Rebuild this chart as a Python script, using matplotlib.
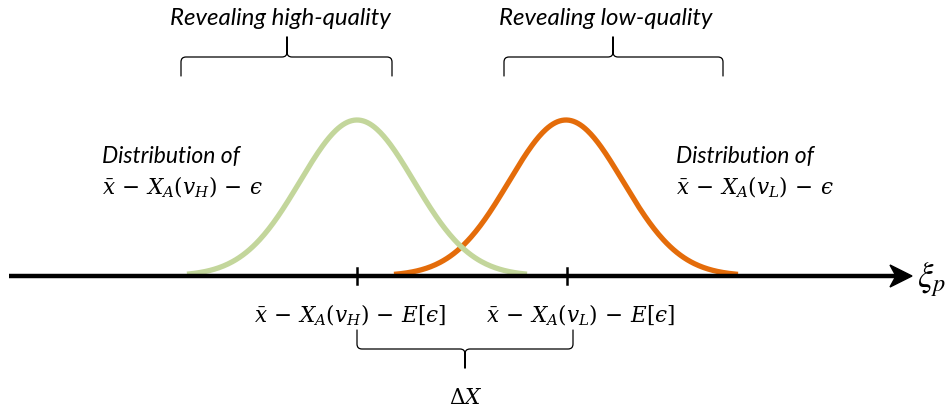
import numpy as np
import matplotlib
matplotlib.use('Agg')
import matplotlib.pyplot as plt
from matplotlib.path import Path
from matplotlib.patches import PathPatch, Polygon

plt.rcParams['mathtext.fontset'] = 'dejavuserif'

# Two distributions along the xi_p axis (units = sketch pixels)
dist_means = [357, 566]
dist_sigma = [57, 57]
dist_peak = [156, 156]
dist_halfwidth = [170, 172]
dist_colors = ['#C3D69B', '#E46C0A']

EPS = '\u03f5'
MINUS = r'\,-\,'
tick_pos = [357, 567]
tick_labels = [rf'$\bar{{x}}{MINUS}X_A(v_H){MINUS}E[{EPS}]$',
               rf'$\bar{{x}}{MINUS}X_A(v_L){MINUS}E[{EPS}]$']
dist_texts = [rf'$\bar{{x}}{MINUS}X_A(v_H){MINUS}{EPS}$',
              rf'$\bar{{x}}{MINUS}X_A(v_L){MINUS}{EPS}$']
brace_labels = ['Revealing high-quality', 'Revealing low-quality']
brace_spans = [(181, 392, 287), (504, 723, 613)]
delta_span = (357, 573, 465)

AXIS_Y = 276


def brace(ax, x0, x1, xm, y, leg, tip, r=5, lw=0.9):
    """Curly brace: legs of signed length `leg`, middle tip of signed length `tip`."""
    sl = np.sign(leg)
    st = np.sign(tip)
    verts = [(x0, y + leg), (x0, y + sl * r), (x0, y), (x0 + r, y),
             (xm - r, y), (xm, y), (xm, y + st * r), (xm, y + tip),
             (xm, y + tip), (xm, y + st * r), (xm, y), (xm + r, y),
             (x1 - r, y), (x1, y), (x1, y + sl * r), (x1, y + leg)]
    codes = [Path.MOVETO, Path.LINETO, Path.CURVE3, Path.CURVE3,
             Path.LINETO, Path.CURVE3, Path.CURVE3, Path.LINETO,
             Path.MOVETO, Path.LINETO, Path.CURVE3, Path.CURVE3,
             Path.LINETO, Path.CURVE3, Path.CURVE3, Path.LINETO]
    ax.add_patch(PathPatch(Path(verts, codes), fill=False, ec='black', lw=lw,
                           capstyle='round', joinstyle='round'))


fig = plt.figure(figsize=(9.51, 4.09), dpi=100)
ax = fig.add_axes([0, 0, 1, 1])
ax.set_xlim(0, 951)
ax.set_ylim(409, 0)
ax.axis('off')

# density curves (orange first so the green sits on top at the crossing)
for i in [1, 0]:
    x = np.linspace(dist_means[i] - dist_halfwidth[i], dist_means[i] + dist_halfwidth[i], 300)
    y = dist_peak[i] * np.exp(-0.5 * ((x - dist_means[i]) / dist_sigma[i]) ** 2)
    ax.plot(x, AXIS_Y - y, color=dist_colors[i], lw=3.8, solid_capstyle='butt', zorder=2)

# xi_p axis with arrow head
ax.plot([9, 897], [AXIS_Y, AXIS_Y], color='black', lw=3.2, solid_capstyle='butt', zorder=3)
ax.add_patch(Polygon([(912, AXIS_Y), (890, AXIS_Y - 11), (896, AXIS_Y),
                      (890, AXIS_Y + 11)], closed=True, fc='black', ec='black',
                     lw=1, zorder=3))
ax.text(917, 287, r'$\xi_p$', fontsize=25, ha='left', va='baseline',
        math_fontfamily='stix')

# ticks and their labels
for xp in tick_pos:
    ax.plot([xp, xp], [AXIS_Y - 8, AXIS_Y + 8], color='black', lw=1.8, zorder=3)
for xc, lab in zip([350, 580], tick_labels):
    ax.text(xc, 322, lab, fontsize=15.5, ha='center', va='baseline')

# distribution captions
for xl, txt in zip([102, 676], dist_texts):
    ax.text(xl, 163, 'Distribution of', fontsize=16.5, style='italic',
            family='Lato', ha='left', va='baseline')
    ax.text(xl, 194, txt, fontsize=15.5, ha='left', va='baseline')

# upper braces
for (x0, x1, xm), lab in zip(brace_spans, brace_labels):
    brace(ax, x0, x1, xm, 57, 19, -20)
    ax.text(xm - 7, 25, lab, fontsize=17.3, style='italic', family='Lato',
            ha='center', va='baseline')

# lower brace (Delta X)
brace(ax, delta_span[0], delta_span[1], delta_span[2], 349, -19, 19)
ax.text(466, 404, r'$\Delta X$', fontsize=15.5, ha='center', va='baseline')

fig.savefig('out.png', dpi=100)
